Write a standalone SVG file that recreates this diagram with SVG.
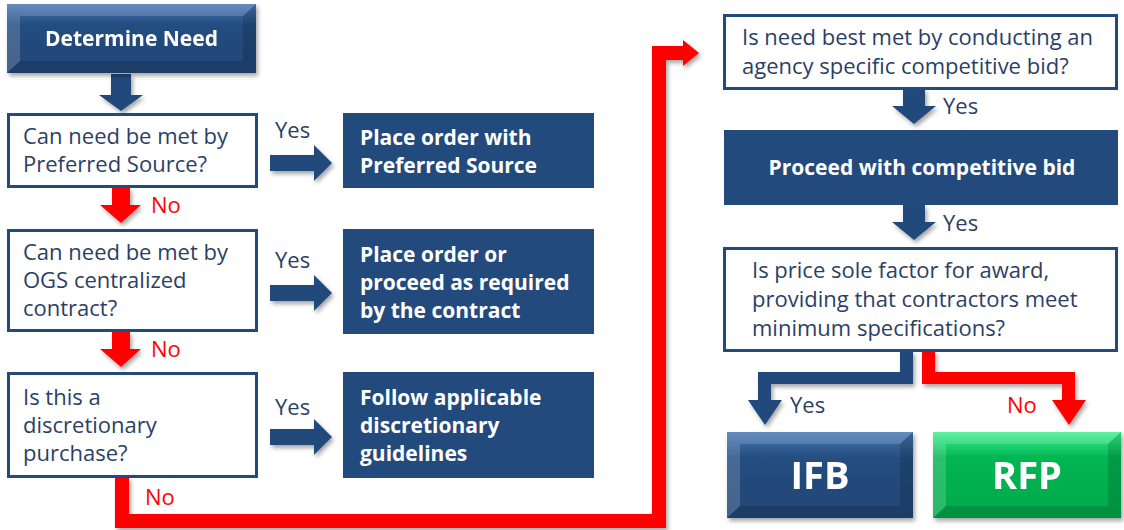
<svg xmlns="http://www.w3.org/2000/svg" width="1124" height="530" viewBox="0 0 1124 530">
  <defs>
    <style>
      .q { fill: #ffffff; stroke: #234a7c; stroke-width: 3; }
      .act { fill: #234a7c; }
      .qt { font-family: "Open Sans", "Liberation Sans", sans-serif; font-size: 22px; fill: #2b3f66; }
      .at { font-family: "Open Sans", "Liberation Sans", sans-serif; font-size: 21px; font-weight: bold; fill: #ffffff; }
      .big { font-family: "Open Sans", "Liberation Sans", sans-serif; font-size: 38px; font-weight: bold; fill: #ffffff; text-anchor: middle; }
      .yes { font-family: "Open Sans", "Liberation Sans", sans-serif; font-size: 22px; fill: #2b3f66; }
      .no { font-family: "Open Sans", "Liberation Sans", sans-serif; font-size: 22px; fill: #ff0000; }
      .blue { fill: #234a7c; }
      .red { fill: #ff0000; }
      .hi { fill: #ffffff; opacity: 0.16; }
      .lo { fill: #000000; opacity: 0.14; }
    </style>
    <filter id="shadow" x="-20%" y="-20%" width="150%" height="150%">
      <feDropShadow dx="2" dy="3" stdDeviation="2" flood-color="#000000" flood-opacity="0.35"/>
    </filter>
    <linearGradient id="gBlue" x1="0" y1="0" x2="0" y2="1">
      <stop offset="0" stop-color="#4677b4"/>
      <stop offset="0.3" stop-color="#254d80"/>
      <stop offset="1" stop-color="#214676"/>
    </linearGradient>
    <linearGradient id="gGreen" x1="0" y1="0" x2="0" y2="1">
      <stop offset="0" stop-color="#3ef08f"/>
      <stop offset="0.3" stop-color="#00b552"/>
      <stop offset="1" stop-color="#00aa4c"/>
    </linearGradient>
  </defs>

  <!-- connectors -->
  <g id="connectors">
    <!-- Determine Need down to first question -->
    <polygon class="blue" filter="url(#shadow)" points="111,74 131,74 131,95 143,95 121,111 99,95 111,95"/>
    <!-- No arrows down the left column -->
    <polygon class="red" filter="url(#shadow)" points="112,188 130,188 130,205 141,205 121,223 100,205 112,205"/>
    <polygon class="red" filter="url(#shadow)" points="112,332 130,332 130,349 141,349 121,367 100,349 112,349"/>
    <!-- Yes arrows to the action boxes -->
    <polygon class="blue" filter="url(#shadow)" points="270,155 314,155 314,145 332,163 314,181 314,171 270,171"/>
    <polygon class="blue" filter="url(#shadow)" points="270,285 314,285 314,275 332,293 314,311 314,301 270,301"/>
    <polygon class="blue" filter="url(#shadow)" points="270,429 314,429 314,419 332,437 314,455 314,445 270,445"/>
    <!-- No from discretionary purchase round to the competitive bid question -->
    <polygon class="red" filter="url(#shadow)" points="115,478 129,478 129,514 652,514 652,46 683,46 683,40 699,53 683,66 683,60 666,60 666,528 115,528"/>
    <!-- right column down arrows -->
    <polygon class="blue" filter="url(#shadow)" points="903,89 925,89 925,106 936,106 914,124 892,106 903,106"/>
    <polygon class="blue" filter="url(#shadow)" points="903,205 925,205 925,222 936,222 914,240 892,222 903,222"/>
    <!-- Yes branch to IFB -->
    <polygon class="blue" filter="url(#shadow)" points="900,351 913,351 913,384 771,384 771,400 782,400 765,425 748,400 758,400 758,372 900,372"/>
    <!-- No branch to RFP -->
    <polygon class="red" filter="url(#shadow)" points="922,351 935,351 935,372 1075,372 1075,400 1086,400 1069,425 1052,400 1062,400 1062,384 922,384"/>

    <text class="yes" x="275" y="138">Yes</text>
    <text class="yes" x="275" y="268">Yes</text>
    <text class="yes" x="275" y="415">Yes</text>
    <text class="no" x="151" y="213">No</text>
    <text class="no" x="151" y="357">No</text>
    <text class="no" x="145" y="505">No</text>
    <text class="yes" x="943" y="114">Yes</text>
    <text class="yes" x="943" y="231">Yes</text>
    <text class="yes" x="790" y="413">Yes</text>
    <text class="no" x="1007" y="413">No</text>
  </g>

  <!-- start -->
  <g id="determine-need" filter="url(#shadow)">
    <rect x="7" y="4" width="249" height="69" fill="url(#gBlue)"/>
    <polygon class="hi" points="7,4 256,4 243,16 20,16"/>
    <polygon class="hi" points="7,4 20,16 20,61 7,73" opacity="0.08"/>
    <polygon class="lo" points="256,4 256,73 243,61 243,16"/>
    <polygon class="lo" points="7,73 256,73 243,61 20,61"/>
    <text class="at" x="131.5" y="46" text-anchor="middle">Determine Need</text>
  </g>

  <!-- left column questions -->
  <g id="q-preferred-source">
    <rect class="q" x="8.5" y="114.5" width="248" height="72"/>
    <text class="qt" x="23" y="144">Can need be met by</text>
    <text class="qt" x="23" y="172">Preferred Source?</text>
  </g>
  <g id="q-ogs-contract">
    <rect class="q" x="8.5" y="230.5" width="248" height="100"/>
    <text class="qt" x="23" y="260">Can need be met by</text>
    <text class="qt" x="23" y="288">OGS centralized</text>
    <text class="qt" x="23" y="316">contract?</text>
  </g>
  <g id="q-discretionary">
    <rect class="q" x="8.5" y="373.5" width="248" height="103"/>
    <text class="qt" x="23" y="405">Is this a</text>
    <text class="qt" x="23" y="433">discretionary</text>
    <text class="qt" x="23" y="461">purchase?</text>
  </g>

  <!-- left column actions -->
  <g id="a-preferred-source">
    <rect class="act" x="343" y="113" width="251" height="75"/>
    <text class="at" x="360" y="145">Place order with</text>
    <text class="at" x="360" y="173">Preferred Source</text>
  </g>
  <g id="a-ogs-contract">
    <rect class="act" x="343" y="229" width="251" height="105"/>
    <text class="at" x="360" y="262">Place order or</text>
    <text class="at" x="360" y="290">proceed as required</text>
    <text class="at" x="360" y="318">by the contract</text>
  </g>
  <g id="a-discretionary">
    <rect class="act" x="343" y="372" width="251" height="106"/>
    <text class="at" x="360" y="405">Follow applicable</text>
    <text class="at" x="360" y="433">discretionary</text>
    <text class="at" x="360" y="461">guidelines</text>
  </g>

  <!-- right column -->
  <g id="q-competitive-bid">
    <rect class="q" x="724.5" y="15.5" width="392" height="73"/>
    <text class="qt" x="742" y="45">Is need best met by conducting an</text>
    <text class="qt" x="742" y="74">agency specific competitive bid?</text>
  </g>
  <g id="a-competitive-bid">
    <rect class="act" x="724" y="130" width="394" height="75"/>
    <text class="at" x="922" y="175" text-anchor="middle">Proceed with competitive bid</text>
  </g>
  <g id="q-price-factor">
    <rect class="q" x="724.5" y="248.5" width="392" height="102"/>
    <text class="qt" x="752" y="278">Is price sole factor for award,</text>
    <text class="qt" x="752" y="307">providing that contractors meet</text>
    <text class="qt" x="752" y="336">minimum specifications?</text>
  </g>

  <!-- outcomes -->
  <g id="ifb" filter="url(#shadow)">
    <rect x="727" y="432" width="186" height="86" fill="url(#gBlue)"/>
    <polygon class="hi" points="727,432 913,432 900,444 740,444"/>
    <polygon class="hi" points="727,432 740,444 740,506 727,518" opacity="0.08"/>
    <polygon class="lo" points="913,432 913,518 900,506 900,444"/>
    <polygon class="lo" points="727,518 913,518 900,506 740,506"/>
    <text class="big" x="820" y="489">IFB</text>
  </g>
  <g id="rfp" filter="url(#shadow)">
    <rect x="933" y="432" width="188" height="86" fill="url(#gGreen)"/>
    <polygon class="hi" points="933,432 1121,432 1108,444 946,444"/>
    <polygon class="hi" points="933,432 946,444 946,506 933,518" opacity="0.08"/>
    <polygon class="lo" points="1121,432 1121,518 1108,506 1108,444" opacity="0.08"/>
    <polygon class="lo" points="933,518 1121,518 1108,506 946,506" opacity="0.08"/>
    <text class="big" x="1027" y="489">RFP</text>
  </g>
</svg>
